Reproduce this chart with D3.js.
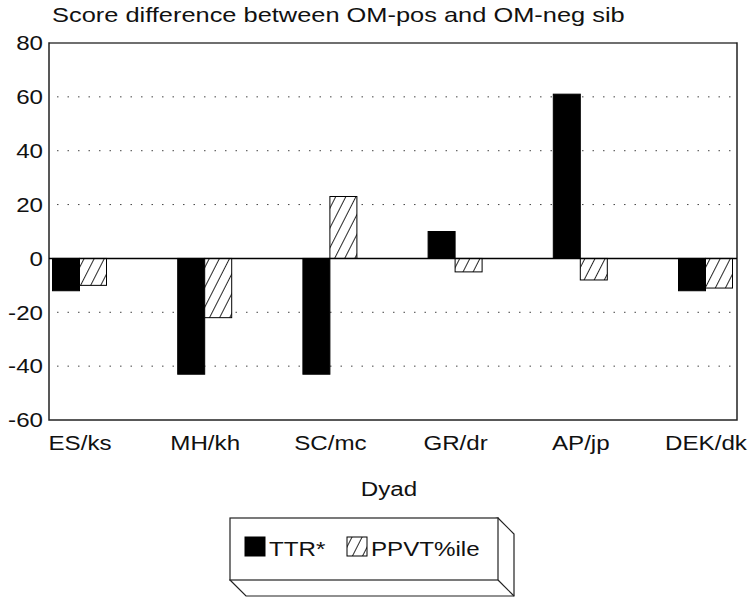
<!DOCTYPE html>
<html>
<head>
<meta charset="utf-8">
<script src="https://cdn.jsdelivr.net/npm/d3@7"></script>
<style>
  body { margin: 0; background: #fff; }
  text { font-family: "Liberation Sans", Arial, Helvetica, sans-serif; fill: #111; }
</style>
</head>
<body>
<script>
var dyads = ["ES/ks", "MH/kh", "SC/mc", "GR/dr", "AP/jp", "DEK/dk"];
var ttr = [-12, -43, -43, 10, 61, -12];
var ppvt = [-10, -22, 23, -5, -8, -11];
var yTicks = [-60, -40, -20, 0, 20, 40, 60, 80];
var seriesNames = ["TTR*", "PPVT%ile"];

var dim = {
    width: 753, height: 598,
    plot: { left: 49, right: 737, top: 43, bottom: 420 }
};

// the scanned lettering is wider than Liberation Sans, so stretch it a bit
var stretch = 1.15;

var svg = d3.select("body").append("svg")
        .attr("width", dim.width)
        .attr("height", dim.height);

var defs = svg.append("defs");

defs.append("pattern")
        .attr("id", "hatch")
        .attr("patternUnits", "userSpaceOnUse")
        .attr("width", 9)
        .attr("height", 9)
        .attr("patternTransform", "rotate(27)")
        .call(function(p) {
            p.append("rect").attr("width", 9).attr("height", 9).attr("fill", "#fff");
            p.append("line")
                .attr("x1", 4.5).attr("y1", 0).attr("x2", 4.5).attr("y2", 9)
                .attr("stroke", "#111").attr("stroke-width", 0.9);
        });

var y = d3.scaleLinear()
        .domain([-60, 80])
        .range([dim.plot.bottom, dim.plot.top]);

var x = d3.scalePoint()
        .domain(dyads)
        .range([79.5, 705.5]);

var sub = d3.scaleBand()
        .domain(seriesNames)
        .range([-27, 27]);

var data = dyads.map(function(d, i) {
    return { dyad: d, values: [
        { key: "TTR*", value: ttr[i] },
        { key: "PPVT%ile", value: ppvt[i] }
    ] };
});

// title
svg.append("text")
        .attr("transform", "translate(52,22) scale(1.21,1)")
        .style("font-size", "21px")
        .text("Score difference between OM-pos and OM-neg sib");

// dotted grid
svg.append("g")
        .attr("class", "grid")
        .selectAll("line")
        .data(yTicks.filter(function(t) { return t !== 0 && t !== 80 && t !== -60; }))
        .enter().append("line")
        .attr("x1", dim.plot.left + 8)
        .attr("x2", dim.plot.right - 4)
        .attr("y1", function(d) { return y(d); })
        .attr("y2", function(d) { return y(d); })
        .attr("stroke", "#444")
        .attr("stroke-width", 1)
        .attr("stroke-dasharray", "1.5,9");

// frame: top edge is lighter in the scan
svg.append("rect")
        .attr("x", dim.plot.left)
        .attr("y", dim.plot.top)
        .attr("width", dim.plot.right - dim.plot.left)
        .attr("height", dim.plot.bottom - dim.plot.top)
        .attr("fill", "none")
        .attr("stroke", "#222")
        .attr("stroke-width", 1.5);

svg.append("line")
        .attr("x1", dim.plot.left + 1)
        .attr("x2", dim.plot.right - 1)
        .attr("y1", dim.plot.top)
        .attr("y2", dim.plot.top)
        .attr("stroke", "#777")
        .attr("stroke-width", 1.6);

// y axis labels
var yAxis = d3.axisLeft(y)
        .tickValues(yTicks)
        .tickFormat(function(d) { return String(d); })
        .tickSize(0)
        .tickPadding(6);

svg.append("g")
        .attr("transform", "translate(" + dim.plot.left + ",0)")
        .call(yAxis)
        .call(function(g) {
            g.select(".domain").remove();
            g.selectAll("text")
                .attr("x", 0)
                .attr("transform", "translate(-6,0) scale(" + stretch + ",1)")
                .attr("fill", "#111")
                .style("font-size", "21px")
                .style("font-family", "'Liberation Sans', Arial, sans-serif");
        });

// bars
var groups = svg.append("g")
        .attr("class", "bars")
        .selectAll("g")
        .data(data)
        .enter().append("g")
        .attr("transform", function(d) { return "translate(" + x(d.dyad) + ",0)"; });

groups.selectAll("rect")
        .data(function(d) { return d.values; })
        .enter().append("rect")
        .attr("x", function(d) { return sub(d.key); })
        .attr("width", sub.bandwidth())
        .attr("y", function(d) { return y(Math.max(0, d.value)); })
        .attr("height", function(d) { return Math.abs(y(d.value) - y(0)); })
        .attr("fill", function(d) { return d.key === "TTR*" ? "#000" : "url(#hatch)"; })
        .attr("stroke", "#000")
        .attr("stroke-width", 1);

// zero line
svg.append("line")
        .attr("x1", dim.plot.left)
        .attr("x2", dim.plot.right)
        .attr("y1", y(0))
        .attr("y2", y(0))
        .attr("stroke", "#000")
        .attr("stroke-width", 1.5);

// x axis labels
var xAxis = d3.axisBottom(x)
        .tickSize(0)
        .tickPadding(15);

svg.append("g")
        .attr("transform", "translate(0," + dim.plot.bottom + ")")
        .call(xAxis)
        .call(function(g) {
            g.select(".domain").remove();
            g.selectAll("text")
                .attr("transform", "scale(" + stretch + ",1)")
                .attr("fill", "#111")
                .style("font-size", "21px")
                .style("font-family", "'Liberation Sans', Arial, sans-serif");
        });

svg.append("text")
        .attr("transform", "translate(389,496) scale(" + stretch + ",1)")
        .attr("text-anchor", "middle")
        .style("font-size", "21px")
        .text("Dyad");

// legend box with 3d edge
var lg = { x: 230, y: 518, w: 268, h: 62, d: 16 };
var legend = svg.append("g").attr("class", "legend");

legend.append("path")
        .attr("d", "M" + (lg.x + lg.w) + "," + lg.y +
                   "L" + (lg.x + lg.w + lg.d) + "," + (lg.y + lg.d) +
                   "L" + (lg.x + lg.w + lg.d) + "," + (lg.y + lg.h + lg.d) +
                   "L" + (lg.x + lg.d) + "," + (lg.y + lg.h + lg.d) +
                   "L" + lg.x + "," + (lg.y + lg.h) + "Z")
        .attr("fill", "#fff")
        .attr("stroke", "#222")
        .attr("stroke-width", 1.2);

legend.append("line")
        .attr("x1", lg.x + lg.w).attr("y1", lg.y + lg.h)
        .attr("x2", lg.x + lg.w + lg.d).attr("y2", lg.y + lg.h + lg.d)
        .attr("stroke", "#222").attr("stroke-width", 1.2);

legend.append("rect")
        .attr("x", lg.x).attr("y", lg.y)
        .attr("width", lg.w).attr("height", lg.h)
        .attr("fill", "#fff")
        .attr("stroke", "#222")
        .attr("stroke-width", 1.2);

var legendX = d3.scaleOrdinal().domain(seriesNames).range([245, 347]);

var items = legend.selectAll("g.item")
        .data(seriesNames)
        .enter().append("g")
        .attr("class", "item")
        .attr("transform", function(d) { return "translate(" + legendX(d) + ",537)"; });

items.append("rect")
        .attr("width", 20)
        .attr("height", 19)
        .attr("fill", function(d, i) { return i === 0 ? "#000" : "url(#hatch)"; })
        .attr("stroke", "#000")
        .attr("stroke-width", 1);

items.append("text")
        .attr("transform", "translate(24,19) scale(" + stretch + ",1)")
        .style("font-size", "21px")
        .text(function(d) { return d; });
</script>
</body>
</html>
